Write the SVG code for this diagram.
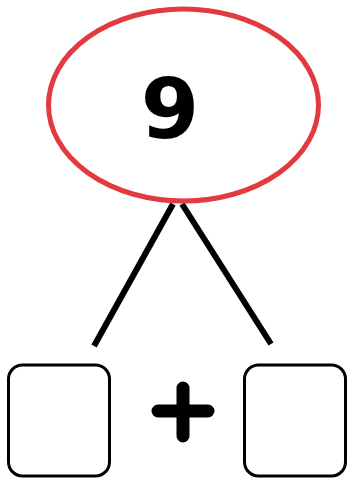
<svg xmlns="http://www.w3.org/2000/svg" width="349" height="479" viewBox="0 0 349 479">
<style>
.conn{stroke:#000;stroke-width:6;fill:none}
.box{fill:#fff;stroke:#000;stroke-width:3}
</style>
<rect width="349" height="479" fill="#fff"/>
<g id="connectors">
<line class="conn" x1="173" y1="204" x2="94" y2="346"/>
<line class="conn" x1="182" y1="204" x2="271" y2="344"/>
</g>
<g id="total">
<ellipse cx="183.5" cy="105" rx="135" ry="96" fill="#fff" stroke="#e23b3f" stroke-width="5"/>
<text x="170" y="138" font-family="'DejaVu Sans', sans-serif" font-weight="bold" font-size="84" text-anchor="middle">9</text>
</g>
<g id="part1">
<rect class="box" x="8.5" y="365" width="101" height="111" rx="14"/>
</g>
<g id="plus">
<path d="M158 411H208M183 388V436" stroke="#000" stroke-width="13" stroke-linecap="round" fill="none"/>
</g>
<g id="part2">
<rect class="box" x="244.5" y="365" width="101" height="111" rx="14"/>
</g>
</svg>
